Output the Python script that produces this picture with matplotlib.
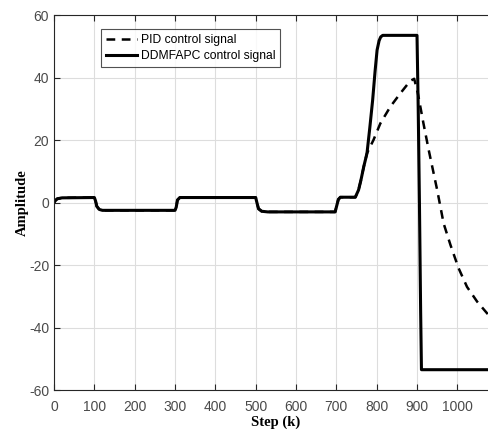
import matplotlib.pyplot as plt

plt.rcParams['axes.unicode_minus'] = False

# DDMFAPC control signal
k_ddm = [0, 3, 8, 20, 100, 103, 106, 112, 120, 300, 303, 306, 312, 500, 503, 507,
         515, 530, 697, 701, 705, 710, 747, 755, 761, 768, 776, 783, 790, 796, 801,
         806, 810, 815, 820, 900, 903, 906, 909, 911, 1080]
u_ddm = [0, 0.6, 1.2, 1.5, 1.6, 0.5, -1.2, -2.2, -2.5, -2.5, -1.5, 0.8, 1.6, 1.6, 0,
         -2.0, -2.8, -3.0, -3.0, -1.0, 1.0, 1.7, 1.7, 4.0, 7.2, 11.5, 15.8, 24.0, 32.8,
         42.0, 48.8, 51.8, 53.0, 53.5, 53.5, 53.5, 30.0, 0.0, -35.0, -53.5, -53.5]

# PID control signal
k_pid = [0, 3, 8, 20, 100, 103, 106, 112, 120, 300, 303, 306, 312, 500, 503, 507,
         515, 530, 697, 701, 705, 710, 747, 755, 761, 768, 776, 792, 809, 834, 859,
         883, 893, 902, 916, 929, 950, 966, 983, 1003, 1024, 1049, 1080]
u_pid = [0, 0.6, 1.2, 1.5, 1.6, 0.5, -1.2, -2.2, -2.5, -2.5, -1.5, 0.8, 1.6, 1.6, 0,
         -2.0, -2.8, -3.0, -3.0, -1.0, 1.0, 1.7, 1.7, 4.0, 7.2, 11.5, 15.8, 20.0, 25.3,
         30.7, 35.0, 38.9, 39.6, 35.0, 25.3, 16.8, 4.0, -6.7, -13.6, -21.0, -27.0,
         -31.7, -36.4]

x_ticks = [0, 100, 200, 300, 400, 500, 600, 700, 800, 900, 1000]
y_ticks = [-60, -40, -20, 0, 20, 40, 60]

fig = plt.figure(figsize=(4.88, 4.30), dpi=100)
ax = fig.add_axes([0.1107, 0.093, 0.8893, 0.872])

ax.plot(k_pid, u_pid, color='black', linestyle=(0, (3.5, 2.6)), linewidth=1.8,
        label='PID control signal')
ax.plot(k_ddm, u_ddm, color='black', linewidth=2.2, label='DDMFAPC control signal')

ax.set_xlim(0, 1076)
ax.set_ylim(-60, 60)
ax.set_xticks(x_ticks)
ax.set_yticks(y_ticks)
ax.grid(True, color='#dddddd', linewidth=0.8)
ax.set_axisbelow(True)

ax.spines['right'].set_visible(False)
for s in ['left', 'top', 'bottom']:
    ax.spines[s].set_color('#262626')
    ax.spines[s].set_linewidth(0.8)
ax.tick_params(direction='in', top=True, right=False, length=4, width=0.8,
               colors='#262626', labelcolor='#4a4a4a', labelsize=10)
ax.tick_params(axis='x', pad=7)
for lbl in ax.get_xticklabels() + ax.get_yticklabels():
    lbl.set_family('Liberation Sans')

ax.set_xlabel('Step (k)', fontfamily='Liberation Serif', fontweight='bold',
              fontsize=10.5)
ax.xaxis.set_label_coords(0.5115, -0.068)
ax.set_ylabel('Amplitude', fontfamily='Liberation Serif', fontweight='bold',
              fontsize=10.5, labelpad=0)

leg = ax.legend(loc='upper left', bbox_to_anchor=(0.108, 0.962),
                prop={'family': 'Liberation Sans', 'size': 8.7}, frameon=True,
                fancybox=False, edgecolor='#262626', handlelength=2.6,
                borderpad=0.4, labelspacing=0.3, handletextpad=0.3,
                borderaxespad=0)
leg.get_frame().set_linewidth(0.8)

fig.savefig('out.png', dpi=100)
